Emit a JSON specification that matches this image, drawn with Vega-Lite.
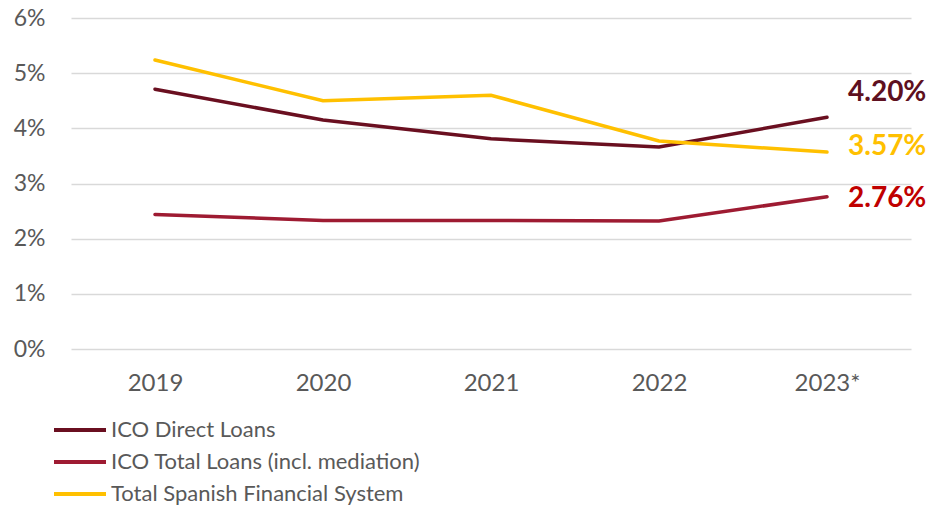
{
  "$schema": "https://vega.github.io/schema/vega-lite/v6.json",
  "autosize": {"type": "none"},
  "width": 840,
  "height": 331,
  "padding": {"left": 71, "top": 18, "right": 21, "bottom": 157},
  "background": "white",
  "config": {
    "view": {"stroke": null},
    "font": "Lato"
  },
  "data": {
    "values": [
      {"series": "ICO Direct Loans", "year": "2019", "value": 0.0471},
      {"series": "ICO Direct Loans", "year": "2020", "value": 0.0415},
      {"series": "ICO Direct Loans", "year": "2021", "value": 0.0381},
      {"series": "ICO Direct Loans", "year": "2022", "value": 0.0366},
      {"series": "ICO Direct Loans", "year": "2023*", "value": 0.0420},
      {"series": "ICO Total Loans (incl. mediation)", "year": "2019", "value": 0.0244},
      {"series": "ICO Total Loans (incl. mediation)", "year": "2020", "value": 0.0233},
      {"series": "ICO Total Loans (incl. mediation)", "year": "2021", "value": 0.0233},
      {"series": "ICO Total Loans (incl. mediation)", "year": "2022", "value": 0.0232},
      {"series": "ICO Total Loans (incl. mediation)", "year": "2023*", "value": 0.0276},
      {"series": "Total Spanish Financial System", "year": "2019", "value": 0.0524},
      {"series": "Total Spanish Financial System", "year": "2020", "value": 0.0450},
      {"series": "Total Spanish Financial System", "year": "2021", "value": 0.0460},
      {"series": "Total Spanish Financial System", "year": "2022", "value": 0.0377},
      {"series": "Total Spanish Financial System", "year": "2023*", "value": 0.0357}
    ]
  },
  "encoding": {
    "x": {
      "field": "year", "type": "ordinal",
      "scale": {"type": "point", "padding": 0.5},
      "axis": {"title": null, "labelAngle": 0, "domain": false, "ticks": false, "labelPadding": 22, "labelFontSize": 24, "labelColor": "#595959", "labelFont": "Lato"}
    },
    "y": {
      "field": "value", "type": "quantitative",
      "scale": {"domain": [0, 0.06], "nice": false},
      "axis": {"title": null, "format": ".0%", "values": [0, 0.01, 0.02, 0.03, 0.04, 0.05, 0.06], "labelOverlap": false, "domain": false, "ticks": false, "labelPadding": 26, "labelFontSize": 23, "labelColor": "#595959", "gridColor": "#D9D9D9", "gridWidth": 1.3, "labelFont": "Lato"}
    }
  },
  "layer": [
    {
      "mark": {"type": "line", "strokeWidth": 3.5, "strokeCap": "round"},
      "encoding": {
        "color": {
          "field": "series", "type": "nominal",
          "scale": {
            "domain": ["ICO Direct Loans", "ICO Total Loans (incl. mediation)", "Total Spanish Financial System"],
            "range": ["#6A0F20", "#9E1B32", "#FFC000"]
          },
          "legend": {
            "title": null, "orient": "none", "legendX": -6, "legendY": 397,
            "direction": "vertical", "symbolType": "M-2,0H2", "symbolSize": 676, "symbolStrokeWidth": 4,
            "labelFontSize": 22, "labelColor": "#595959", "rowPadding": 6, "labelOffset": 16, "labelLimit": 500, "labelFont": "Lato"
          }
        }
      }
    },
    {
      "transform": [{"filter": "datum.year == '2023*' && datum.series == 'ICO Direct Loans'"}],
      "mark": {"type": "text", "align": "left", "baseline": "middle", "dx": 21, "dy": -24, "fontSize": 28, "fontWeight": "bold", "color": "#5E1020", "font": "Lato"},
      "encoding": {"text": {"field": "value", "type": "quantitative", "format": ".2%"}}
    },
    {
      "transform": [{"filter": "datum.year == '2023*' && datum.series == 'Total Spanish Financial System'"}],
      "mark": {"type": "text", "align": "left", "baseline": "middle", "dx": 21, "dy": -5, "fontSize": 28, "fontWeight": "bold", "color": "#FFC000", "font": "Lato"},
      "encoding": {"text": {"field": "value", "type": "quantitative", "format": ".2%"}}
    },
    {
      "transform": [{"filter": "datum.year == '2023*' && datum.series == 'ICO Total Loans (incl. mediation)'"}],
      "mark": {"type": "text", "align": "left", "baseline": "middle", "dx": 21, "dy": 2, "fontSize": 28, "fontWeight": "bold", "color": "#C00000", "font": "Lato"},
      "encoding": {"text": {"field": "value", "type": "quantitative", "format": ".2%"}}
    }
  ]
}
